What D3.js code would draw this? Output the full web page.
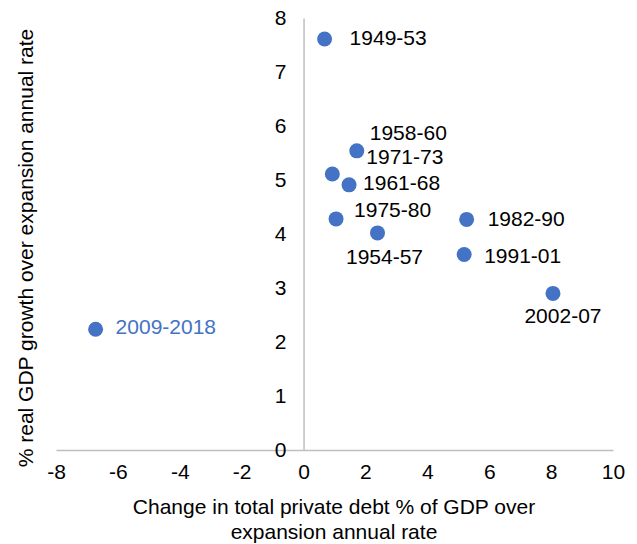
<!DOCTYPE html>
<html>
<head>
<meta charset="utf-8">
<script src="https://cdn.jsdelivr.net/npm/d3@7"></script>
<style>
  html, body { margin: 0; padding: 0; background: #fff; }
  svg { display: block; font-family: "Liberation Sans", Arial, sans-serif; }
</style>
</head>
<body>
<svg id="chart" width="637" height="544"></svg>
<script>
// expansion periods
var periods = ["1949-53", "1958-60", "1971-73", "1961-68", "1975-80", "1954-57", "1982-90", "1991-01", "2002-07", "2009-2018"];
// change in total private debt % of GDP (annual rate)
var debtChange = [0.68, 1.72, 0.93, 1.47, 1.05, 2.39, 5.27, 5.19, 8.06, -6.72];
// real GDP growth (annual rate)
var gdpGrowth = [7.61, 5.54, 5.11, 4.91, 4.28, 4.02, 4.27, 3.62, 2.90, 2.235];

var xTicks = [-8, -6, -4, -2, 0, 2, 4, 6, 8, 10];
var yTicks = [0, 1, 2, 3, 4, 5, 6, 7, 8];

// where each label sits relative to its dot (px), as placed in the original
var labelPos = {
  "1949-53":   { dx: 25, dy: -1, anchor: "start" },
  "1958-60":   { dx: 13, dy: -18, anchor: "start" },
  "1971-73":   { dx: 34, dy: -17, anchor: "start" },
  "1961-68":   { dx: 14, dy: -2, anchor: "start" },
  "1975-80":   { dx: 18, dy: -9, anchor: "start" },
  "1954-57":   { dx: 7, dy: 24, anchor: "middle" },
  "1982-90":   { dx: 21, dy: -1, anchor: "start" },
  "1991-01":   { dx: 20, dy: 1, anchor: "start" },
  "2002-07":   { dx: 10, dy: 22, anchor: "middle" },
  "2009-2018": { dx: 20, dy: -3, anchor: "start" }
};

var BLUE = "#4472C4";
var AXIS = "#BFBFBF";
var FS = 21;

var svg = d3.select("#chart");

var x = d3.scaleLinear().domain([-8, 10]).range([56, 613]);
var y = d3.scaleLinear().domain([0, 8]).range([450, 18]);

var points = periods.map(function (p, i) {
  return { name: p, dx: debtChange[i], gy: gdpGrowth[i] };
});

// x axis along y = 0
var xAxis = svg.append("g")
  .attr("transform", "translate(0," + y(0) + ")")
  .call(d3.axisBottom(x).tickValues(xTicks).tickSize(0).tickPadding(14).tickFormat(String));
xAxis.select(".domain").attr("stroke", AXIS).attr("stroke-width", 1.5);
xAxis.selectAll("text").attr("font-size", FS).attr("fill", "#000")
  .attr("font-family", "Liberation Sans, Arial, sans-serif");

// y axis along x = 0
var yAxis = svg.append("g")
  .attr("transform", "translate(" + x(0) + ",0)")
  .call(d3.axisLeft(y).tickValues(yTicks).tickSize(0).tickPadding(17).tickFormat(String));
yAxis.select(".domain").attr("stroke", AXIS).attr("stroke-width", 1.5);
yAxis.selectAll("text").attr("font-size", FS).attr("fill", "#000")
  .attr("font-family", "Liberation Sans, Arial, sans-serif");

// dots
svg.append("g")
  .selectAll("circle")
  .data(points)
  .join("circle")
  .attr("cx", function (d) { return x(d.dx); })
  .attr("cy", function (d) { return y(d.gy); })
  .attr("r", 7.5)
  .attr("fill", BLUE);

// labels
svg.append("g")
  .selectAll("text")
  .data(points)
  .join("text")
  .attr("x", function (d) { return x(d.dx) + labelPos[d.name].dx; })
  .attr("y", function (d) { return y(d.gy) + labelPos[d.name].dy; })
  .attr("dy", "0.35em")
  .attr("text-anchor", function (d) { return labelPos[d.name].anchor; })
  .attr("font-size", FS)
  .attr("fill", function (d) { return d.name === "2009-2018" ? BLUE : "#000"; })
  .text(function (d) { return d.name; });

// axis titles
var xTitle = svg.append("text")
  .attr("text-anchor", "middle")
  .attr("font-size", FS)
  .attr("fill", "#000");
xTitle.append("tspan").attr("x", 334).attr("y", 514).text("Change in total private debt % of GDP over");
xTitle.append("tspan").attr("x", 334).attr("y", 539).text("expansion annual rate");

svg.append("text")
  .attr("transform", "translate(33,248) rotate(-90)")
  .attr("text-anchor", "middle")
  .attr("font-size", FS)
  .attr("fill", "#000")
  .text("% real GDP growth over expansion annual rate");
</script>
</body>
</html>
